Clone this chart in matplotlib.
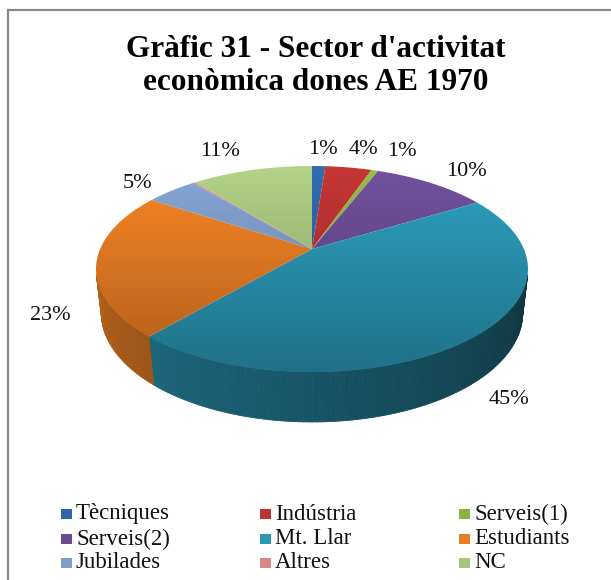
import numpy as np
import matplotlib.pyplot as plt
from matplotlib.patches import Polygon, Rectangle
from matplotlib.colors import to_rgb

# data
categories = ['Tècniques', 'Indústria', 'Serveis(1)', 'Serveis(2)', 'Mt. Llar',
              'Estudiants', 'Jubilades', 'Altres', 'NC']
values = [1.2, 4.2, 0.6, 10.4, 45.0, 22.8, 4.7, 0.2, 10.9]
colors = ['#2F65A7', '#B83331', '#8AB33F', '#6A4C93', '#2A97B5',
          '#E97D23', '#7F9CC9', '#D98886', '#A6C47E']
title = "Gràfic 31 - Sector d'activitat\neconòmica dones AE 1970"

# layout (pixels)
W, H = 611, 580
CX, CY = 312, 249          # pie apex on screen
SCALE = 964
ELEV = np.radians(27.9)
DIST = 4.55
THICK = 0.2375
label_xy = [(323, 149), (363, 150), (402, 152), (466, 172), (509, 400),
            (50, 315), (138, 184), None, (220, 152)]
legend_cols = [61, 260, 459]
legend_rows = [514, 539, 563]
FONT = 'Liberation Serif'

s_e, c_e = np.sin(ELEV), np.cos(ELEV)


def project(theta, r=1.0, z=0.0):
    X = r * np.sin(theta)
    Y = r * np.cos(theta)
    zc = Y * c_e - z * s_e + DIST
    yc = Y * s_e + z * c_e
    return CX + SCALE * X / zc, CY - SCALE * yc / zc


def shade(col, f):
    return tuple(np.clip(np.array(to_rgb(col)) * f, 0, 1))


fig = plt.figure(figsize=(W / 100, H / 100), dpi=100)
ax = fig.add_axes([0, 0, 1, 1])
ax.set_xlim(0, W)
ax.set_ylim(H, 0)
ax.axis('off')

# chart border (right/bottom fall outside the picture)
ax.plot([8, 8, W + 5], [H + 5, 10, 10], color='#8a8a8a', lw=1.6,
        solid_joinstyle='miter')

total = sum(values)
bounds = np.concatenate([[0], np.cumsum(values)]) / total * 2 * np.pi

# side walls: visible where the outer face points to the viewer
vis_lo = np.pi - np.arccos(1 / (DIST * c_e))
vis_hi = np.pi + np.arccos(1 / (DIST * c_e))
for i, col in enumerate(colors):
    a0 = max(bounds[i], vis_lo)
    a1 = min(bounds[i + 1], vis_hi)
    if a1 <= a0:
        continue
    steps = np.linspace(a0, a1, max(2, int(np.degrees(a1 - a0))) + 1)
    for t0, t1 in zip(steps[:-1], steps[1:]):
        xt0, yt0 = project(t0)
        xt1, yt1 = project(t1)
        xb1, yb1 = project(t1, z=-THICK)
        xb0, yb0 = project(t0, z=-THICK)
        f = 0.35 + 0.00279 * (np.degrees((t0 + t1) / 2) - 105)
        c = shade(col, f)
        ax.add_patch(Polygon([(xt0, yt0), (xt1, yt1), (xb1, yb1), (xb0, yb0)],
                             closed=True, facecolor=c, edgecolor=c, lw=0.6))

# top faces with a vertical gradient
ys_top = project(0.0)[1]
ys_bot = project(np.pi)[1]
grad_y = np.linspace(ys_top - 5, ys_bot + 5, 200)
fgrad = 1.08 - 0.33 * (grad_y - ys_top) / (ys_bot - ys_top)
for i, col in enumerate(colors):
    th = np.linspace(bounds[i], bounds[i + 1],
                     max(2, int(np.degrees(bounds[i + 1] - bounds[i]) * 2)) + 1)
    px, py = project(th)
    pts = [(CX, CY)] + list(zip(px, py))
    poly = Polygon(pts, closed=True, facecolor='none', edgecolor='none')
    ax.add_patch(poly)
    img = np.clip(np.array(to_rgb(col))[None, None, :] * fgrad[:, None, None], 0, 1)
    im = ax.imshow(img, extent=(min(px.min(), CX) - 2, max(px.max(), CX) + 2,
                                grad_y[-1], grad_y[0]),
                   aspect='auto', interpolation='bilinear', zorder=2)
    im.set_clip_path(poly)

# percentage labels
for v, xy in zip(values, label_xy):
    if xy is None:
        continue
    ax.text(xy[0], xy[1], f'{round(v / total * 100):.0f}%', ha='center',
            va='center', fontsize=16, family=FONT, color='#111111', zorder=5)

# title
ax.text(316, 66, title, ha='center', va='center', fontsize=22.5,
        fontweight='bold', family=FONT, linespacing=1.22, zorder=5)

# legend
for k, (name, col) in enumerate(zip(categories, colors)):
    x0 = legend_cols[k % 3]
    y0 = legend_rows[k // 3]
    ax.add_patch(Rectangle((x0, y0 - 5), 11, 10, facecolor=col,
                           edgecolor='none', zorder=5))
    ax.text(x0 + 15, y0, name, ha='left', va='center', fontsize=16.5,
            family=FONT, color='#111111', zorder=5)

fig.savefig('out.png', dpi=100)
